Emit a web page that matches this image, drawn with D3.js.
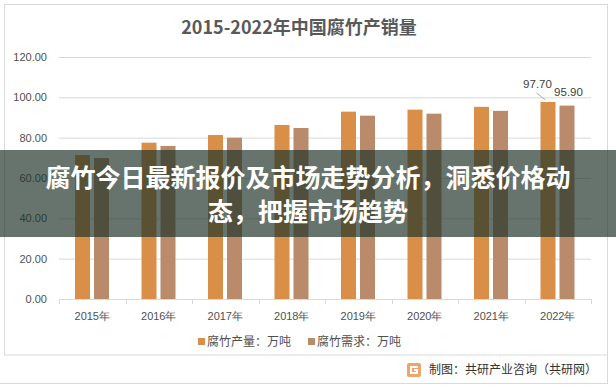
<!DOCTYPE html>
<html>
<head>
<meta charset="utf-8">
<script src="https://cdn.jsdelivr.net/npm/d3@7"></script>
<style>
  html, body { margin: 0; padding: 0; background: #fff; }
  svg { display: block; font-family: "Noto Sans CJK SC", "Noto Sans", sans-serif; }
</style>
</head>
<body>
<div id="chart"></div>
<script>
// data
var years = ["2015年", "2016年", "2017年", "2018年", "2019年", "2020年", "2021年", "2022年"];
var seriesNames = ["腐竹产量：万吨", "腐竹需求：万吨"];
var production = [71.4, 77.5, 81.3, 86.3, 92.9, 93.9, 95.3, 97.7];
var demand = [69.9, 75.9, 80.0, 84.8, 90.9, 91.9, 93.3, 95.9];
var yTicks = [0, 20, 40, 60, 80, 100, 120];

var W = 616, H = 389;
var colors = ["#D98F48", "#BA8B6B"];

var svg = d3.select("#chart").append("svg")
    .attr("width", W)
    .attr("height", H);

// frame
svg.append("rect")
    .attr("x", 4.5).attr("y", 4.5)
    .attr("width", 603).attr("height", 350.5)
    .attr("fill", "#fff")
    .attr("stroke", "#D9D9D9");

// footer box
svg.append("line").attr("x1", 0).attr("x2", 607.5).attr("y1", 383.5).attr("y2", 383.5)
    .attr("stroke", "#D9D9D9");
svg.append("line").attr("x1", 607.5).attr("x2", 607.5).attr("y1", 355).attr("y2", 384)
    .attr("stroke", "#D9D9D9");

// title
svg.append("text")
    .attr("x", 299).attr("y", 34)
    .attr("text-anchor", "middle")
    .attr("font-size", 18)
    .attr("font-weight", "bold")
    .attr("fill", "#595959")
    .text("2015-2022年中国腐竹产销量");

// scales
var x0 = d3.scaleBand()
    .domain(years)
    .range([59, 591]);

var x1 = d3.scaleBand()
    .domain(d3.range(2))
    .range([16, 50])
    .paddingInner(0.21);

var y = d3.scaleLinear()
    .domain([0, 120])
    .range([299, 57]);

// grid + y labels
var yAxis = d3.axisLeft(y)
    .tickValues(yTicks)
    .tickSize(-(591 - 59))
    .tickFormat(d3.format(".2f"));

var gy = svg.append("g")
    .attr("transform", "translate(59,0)")
    .call(yAxis);
gy.select(".domain").remove();
gy.selectAll(".tick line").attr("stroke", "#D9D9D9");
gy.selectAll(".tick text")
    .attr("x", -12)
    .attr("fill", "#505050")
    .attr("font-size", 11)
    .attr("font-family", "Liberation Sans, sans-serif");

// bars
var data = years.map(function(d, i) { return { year: d, values: [production[i], demand[i]] }; });

var groups = svg.selectAll(".year")
    .data(data)
    .enter().append("g")
    .attr("class", "year")
    .attr("transform", function(d) { return "translate(" + x0(d.year) + ",0)"; });

groups.selectAll("rect")
    .data(function(d) { return d.values; })
    .enter().append("rect")
    .attr("x", function(d, i) { return x1(i); })
    .attr("width", x1.bandwidth())
    .attr("y", function(d) { return y(d); })
    .attr("height", function(d) { return y(0) - y(d); })
    .attr("fill", function(d, i) { return colors[i]; });

// x axis
var gx = svg.append("g")
    .attr("transform", "translate(0,299)")
    .call(d3.axisBottom(x0).tickSize(0));
gx.select(".domain").attr("stroke", "#D9D9D9");
gx.selectAll(".tick text")
    .attr("y", 13)
    .attr("fill", "#505050")
    .attr("font-size", 11);

// ticks at category boundaries
svg.append("g").selectAll("line")
    .data(years.concat(["end"]))
    .enter().append("line")
    .attr("x1", function(d, i) { return Math.round(59 + i * x0.step()) + 0.5; })
    .attr("x2", function(d, i) { return Math.round(59 + i * x0.step()) + 0.5; })
    .attr("y1", 299)
    .attr("y2", 304)
    .attr("stroke", "#D9D9D9");

// last-year labels
var last = years.length - 1;
var lx = x0(years[last]);
svg.append("line")
    .attr("x1", lx + x1(0) - 4).attr("y1", y(production[last]) - 9)
    .attr("x2", lx + x1(0) + 5).attr("y2", y(production[last]) - 2)
    .attr("stroke", "#A6A6A6");
svg.append("text")
    .attr("x", lx + x1(0) - 3).attr("y", y(production[last]) - 14)
    .attr("text-anchor", "middle")
    .attr("font-size", 11.5)
    .attr("fill", "#404040")
    .attr("font-family", "Liberation Sans, sans-serif")
    .text(d3.format(".2f")(production[last]));
svg.append("text")
    .attr("x", lx + x1(1) + 9).attr("y", y(demand[last]) - 10)
    .attr("text-anchor", "middle")
    .attr("font-size", 11.5)
    .attr("fill", "#404040")
    .attr("font-family", "Liberation Sans, sans-serif")
    .text(d3.format(".2f")(demand[last]));

// legend
var legend = svg.append("g").selectAll("g")
    .data(seriesNames)
    .enter().append("g")
    .attr("transform", function(d, i) { return "translate(" + (198 + i * 110) + ",342)"; });
legend.append("rect")
    .attr("x", 0).attr("y", -4)
    .attr("width", 7).attr("height", 7)
    .attr("fill", function(d, i) { return colors[i]; });
legend.append("text")
    .attr("x", 9).attr("y", 4)
    .attr("font-size", 12)
    .attr("fill", "#505050")
    .text(function(d) { return d; });

// footer logo + credit
var logo = svg.append("g").attr("transform", "translate(407,363)");
logo.append("rect").attr("width", 14).attr("height", 14).attr("rx", 2).attr("fill", "#F0A36A");
logo.append("path")
    .attr("d", "M3,3 H11 V5 H5 V9 H9 V8 H7 V6 H11 V11 H3 Z")
    .attr("fill", "#fff");
svg.append("text")
    .attr("x", 429).attr("y", 374)
    .attr("font-size", 12)
    .attr("fill", "#333")
    .text("制图：共研产业咨询（共研网）");

// overlay banner
svg.append("rect")
    .attr("x", 0).attr("y", 150)
    .attr("width", W).attr("height", 87)
    .attr("fill", "rgba(30,50,40,0.68)");
var bannerLines = ["腐竹今日最新报价及市场走势分析，洞悉价格动", "态，把握市场趋势"];
svg.append("g").selectAll("text")
    .data(bannerLines)
    .enter().append("text")
    .attr("x", 308)
    .attr("y", function(d, i) { return 178 + i * 34; })
    .attr("dy", "0.36em")
    .attr("text-anchor", "middle")
    .attr("font-size", 25)
    .attr("font-weight", "bold")
    .attr("fill", "#fff")
    .text(function(d) { return d; });
</script>
</body>
</html>
